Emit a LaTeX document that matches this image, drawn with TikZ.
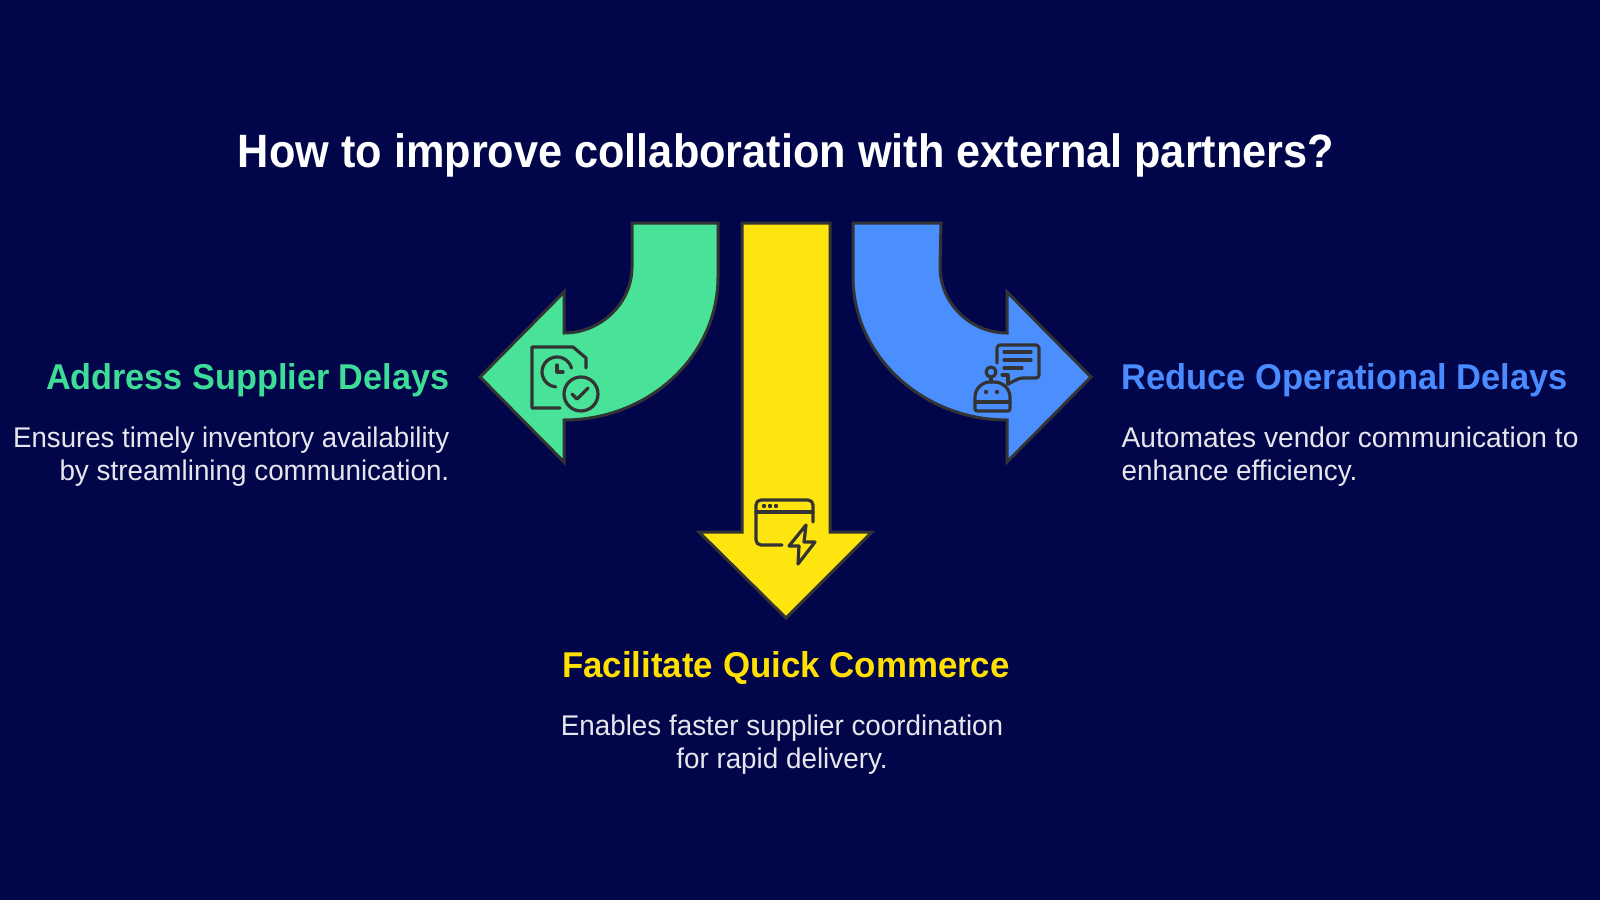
\documentclass[tikz,border=0pt]{standalone}
\usepackage{fontspec}
\setmainfont{Liberation Sans}
\definecolor{bgblue}{HTML}{01064B}
\definecolor{inkgrey}{HTML}{333333}
\definecolor{greenfill}{HTML}{48E298}
\definecolor{yellowfill}{HTML}{FFE510}
\definecolor{bluefill}{HTML}{4B8FFF}
\definecolor{greentext}{HTML}{3DDC97}
\definecolor{yellowtext}{HTML}{FFE000}
\definecolor{bluetext}{HTML}{4A8CFF}
\definecolor{desctext}{HTML}{E6E6EC}
\begin{document}
\begin{tikzpicture}[x=0.01cm,y=-0.01cm,
    arrow shape/.style={draw=inkgrey,line width=0.03cm,line join=miter},
    icon/.style={draw=inkgrey,line width=0.032cm,line cap=round,line join=round},
    main title/.style={inner sep=0pt,font=\fontsize{13.3}{16}\selectfont\bfseries\addfontfeature{FakeStretch=.925},text=white,anchor=base},
    head/.style={inner sep=0pt,font=\fontsize{10.2}{12}\selectfont\bfseries\addfontfeature{FakeStretch=.954},anchor=base},
    desc/.style={inner sep=0pt,font=\fontsize{8.1}{9.4}\selectfont\addfontfeature{FakeStretch=.977},text=desctext,anchor=base}]
    \useasboundingbox (0,0) rectangle (1600,900);
    \fill[bgblue] (0,0) rectangle (1600,900);

    \node[main title] (title) at (786,167) {How to improve collaboration with external partners?};

    % arrows
    \path[arrow shape,fill=greenfill] (632,223) -- (718,223) -- (718,277)
        .. controls (718,356) and (649,420) .. (564,420) -- (564,462) -- (480,377) -- (564,292) -- (564,333)
        .. controls (601,333) and (632,303) .. (632,267) -- cycle;
    \path[arrow shape,fill=yellowfill] (742,223) -- (830,223) -- (830,532) -- (872,532) -- (786,618) -- (699,532) -- (742,532) -- cycle;
    \path[arrow shape,fill=bluefill] (941,223) -- (853,223) -- (853,277)
        .. controls (853,356) and (923,420) .. (1007,420) -- (1007,462) -- (1091,377) -- (1007,292) -- (1007,333)
        .. controls (970,333) and (940,303) .. (940,267) -- cycle;

    % green icon
    \draw[icon] (586,368) -- (586,358) -- (573,347) -- (532,347) -- (532,408) -- (560,408);
    \draw[icon] (571.5,368.1) arc[start angle=-15,end angle=-265,radius=15];
    \draw[icon] (557,365) -- (557,372) -- (563,372);
    \draw[icon] (581,394) circle[radius=17];
    \draw[icon] (572,394) -- (577,399) -- (588,388);

    % yellow icon
    \draw[icon,rounded corners=1.4pt] (813,522) -- (813,500) -- (756,500) -- (756,545) -- (782,545);
    \draw[icon] (756,512) -- (813,512);
    \foreach \dotx in {764,770,776}
        \fill[inkgrey] (\dotx,506) circle[radius=2.2];
    \draw[icon] (806,525) -- (789,546) -- (799,546) -- (798,564) -- (815,542) -- (804,542) -- cycle;

    % blue icon
    \draw[icon,rounded corners=0.9pt] (997,363) -- (997,345) -- (1039,345) -- (1039,378) -- (1020,378) -- (1008,384);
    \draw[icon] (1008,384) -- (1008,375) -- (1002,375);
    \draw[icon] (1004,352) -- (1031,352) (1004,360) -- (1031,360) (1004,368) -- (1022,368);
    \draw[icon] (991,372) circle[radius=5];
    \draw[icon] (991,377) -- (991,382);
    \draw[icon,rounded corners=0.6pt] (975,411) -- (975,399) .. controls (975,389) and (982,382) .. (992,382)
        .. controls (1003,382) and (1010,389) .. (1010,399) -- (1010,411) -- cycle;
    \draw[icon] (975,402) -- (1010,402);
    \fill[inkgrey] (986,392) circle[radius=2.2] (997,392) circle[radius=2.2];

    % labels
    \node[head,text=greentext,anchor=base east] (supplier) at (450,389) {Address Supplier Delays};
    \node[desc,anchor=base east] (supplierone) at (450,447) {\addfontfeature{FakeStretch=.97}Ensures timely inventory availability};
    \node[desc,anchor=base east] (suppliertwo) at (450,480) {by streamlining communication.};
    \node[head,text=bluetext,anchor=base west] (operational) at (1121,389) {\addfontfeature{FakeStretch=.96}Reduce Operational Delays};
    \node[desc,anchor=base west] (operationalone) at (1121,447) {\addfontfeature{FakeStretch=.988}Automates vendor communication to};
    \node[desc,anchor=base west] (operationaltwo) at (1121,480) {enhance efficiency.};
    \node[head,text=yellowtext] (commerce) at (786,677) {\addfontfeature{FakeStretch=.972}Facilitate Quick Commerce};
    \node[desc] (commerceone) at (782,735) {Enables faster supplier coordination};
    \node[desc] (commercetwo) at (782,768) {for rapid delivery.};
\end{tikzpicture}
\end{document}
